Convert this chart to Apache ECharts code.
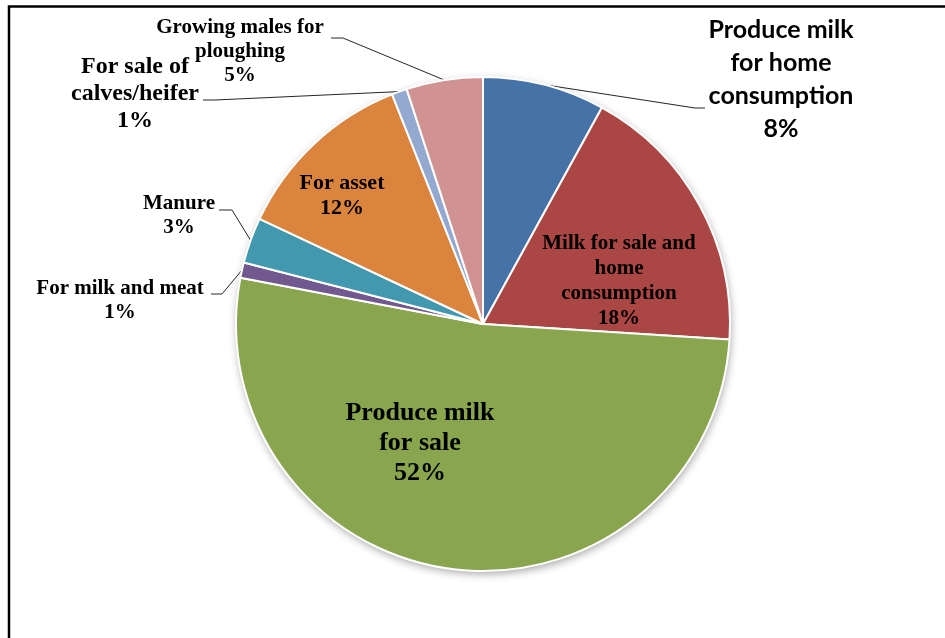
<!DOCTYPE html>
<html>
<head>
<meta charset="utf-8">
<script src="https://cdn.jsdelivr.net/npm/echarts@6/dist/echarts.min.js"></script>
<style>
  html, body { margin: 0; padding: 0; background: #ffffff; }
  #chart { width: 945px; height: 638px; }
</style>
</head>
<body>
<div id="chart"></div>
<script>
// Purposes of keeping cattle, share of respondents (%)
const categories = [
  'Produce milk\nfor home\nconsumption',
  'Milk for sale and\nhome\nconsumption',
  'Produce milk\nfor sale',
  'For milk and meat',
  'Manure',
  'For asset',
  'For sale of\ncalves/heifer',
  'Growing males for\nploughing'
];
const shares = [8, 18, 52, 1, 3, 12, 1, 5];
const sliceColors = ['#4572A7', '#AA4643', '#89A54E', '#71588F', '#4198AF', '#DB843D', '#93A9CF', '#D19392'];

const SERIF = '"Liberation Serif", "Times New Roman", serif';
const SANS = 'Lato, "Open Sans", sans-serif';

// label styling and placement for each slice
const labelStyles = [
  { family: SANS,  size: 25, lh: 33, inside: false, at: [781, 79],  hook: [705, 108, 695] },
  { family: SERIF, size: 21, lh: 25, inside: true,  at: [619, 281] },
  { family: SERIF, size: 26, lh: 30, inside: true,  at: [420, 443] },
  { family: SERIF, size: 21, lh: 24, inside: false, at: [120, 301], hook: [211, 294, 222] },
  { family: SERIF, size: 21, lh: 24, inside: false, at: [179, 216], hook: [219, 210, 232] },
  { family: SERIF, size: 22, lh: 25, inside: true,  at: [342, 196] },
  { family: SERIF, size: 24, lh: 27, inside: false, at: [135, 94],  hook: [203, 100, 215] },
  { family: SERIF, size: 21, lh: 24, inside: false, at: [240, 52],  hook: [331, 38, 343] }
];

const total = shares.reduce((a, b) => a + b, 0);

const pieData = categories.map((name, i) => {
  const s = labelStyles[i];
  return {
    name: name,
    value: shares[i],
    itemStyle: { color: sliceColors[i] },
    label: {
      position: s.inside ? 'inside' : 'outside',
      fontFamily: s.family,
      fontSize: s.size,
      lineHeight: s.lh,
      fontWeight: 'bold',
      color: '#000000',
      align: 'center'
    },
    labelLine: { show: !s.inside }
  };
});

const chart = echarts.init(document.getElementById('chart'), null, { renderer: 'canvas' });

chart.setOption({
  backgroundColor: '#ffffff',
  animation: false,
  graphic: [{
    type: 'polyline',
    shape: { points: [[9, 640], [9, 6.5], [950, 6.5]] },
    style: { stroke: '#000000', lineWidth: 2.5, fill: null },
    silent: true,
    z: 10
  }],
  series: [
    {
      // soft drop shadow under the whole pie
      type: 'pie',
      center: [483, 324],
      radius: 247,
      silent: true,
      z: 1,
      label: { show: false },
      labelLine: { show: false },
      itemStyle: {
        color: '#ffffff',
        shadowBlur: 9,
        shadowColor: 'rgba(0,0,0,0.35)',
        shadowOffsetX: 1,
        shadowOffsetY: 3
      },
      data: [{ name: 'total', value: total }]
    },
    {
      type: 'pie',
      center: [483, 324],
      radius: 247,
      startAngle: 90,
      clockwise: true,
      z: 2,
      avoidLabelOverlap: false,
      itemStyle: { borderColor: '#ffffff', borderWidth: 2 },
      label: {
        show: true,
        formatter: '{b}\n{d}%'
      },
      labelLine: {
        show: true,
        length: 20,
        length2: 10,
        lineStyle: { color: '#262626', width: 1 }
      },
      labelLayout: function (p) {
        const s = labelStyles[p.dataIndex];
        const out = { x: s.at[0], y: s.at[1], align: 'center', verticalAlign: 'middle' };
        if (s.hook && p.labelLinePoints) {
          out.labelLinePoints = [
            p.labelLinePoints[0],
            [s.hook[2], s.hook[1]],
            [s.hook[0], s.hook[1]]
          ];
        }
        return out;
      },
      emphasis: { disabled: true },
      data: pieData
    }
  ]
});
</script>
</body>
</html>
